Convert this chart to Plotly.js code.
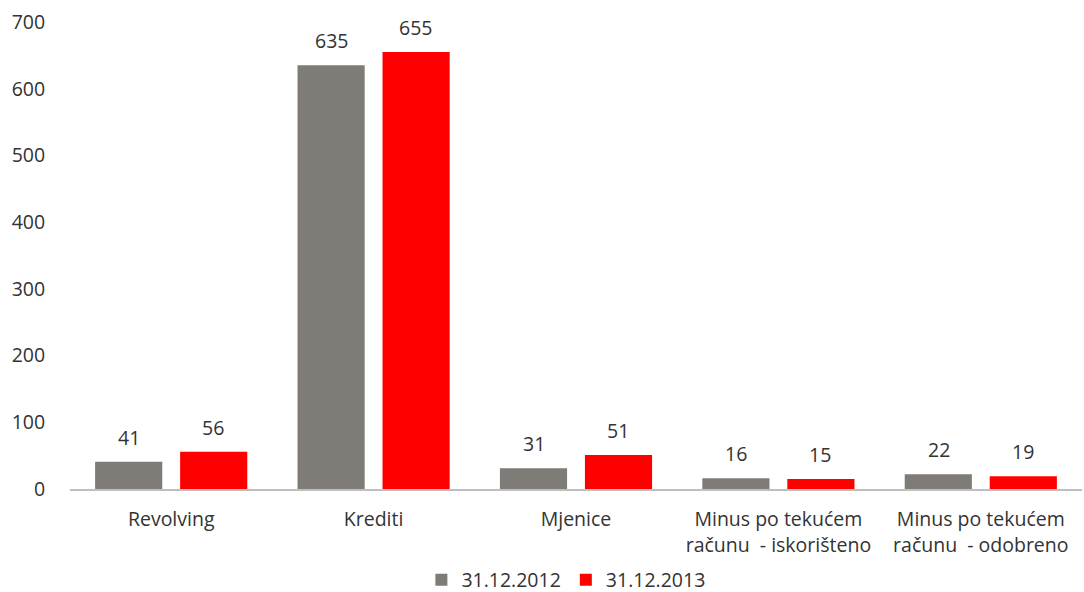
<!DOCTYPE html>
<html>
<head>
<meta charset="utf-8">
<script src="https://cdn.plot.ly/plotly-3.0.1.min.js"></script>
<style>html,body{margin:0;padding:0;background:#fff;}#chart{width:1084px;height:592px;}</style>
</head>
<body>
<div id="chart"></div>
<script>
const categories = ["Revolving", "Krediti", "Mjenice", "Minus po tekućem<br>računu  - iskorišteno", "Minus po tekućem<br>računu  - odobreno"];
const series2012 = [41, 635, 31, 16, 22];
const series2013 = [56, 655, 51, 15, 19];
const seriesNames = ["31.12.2012", "31.12.2013"];
const yTicks = [0, 100, 200, 300, 400, 500, 600, 700];

const textColor = "#333333";
const fontFam = "'Open Sans', 'Liberation Sans', sans-serif";
const fs = 19.5;

const traces = [
  {type: "bar", x: categories, y: series2012, name: seriesNames[0], marker: {color: "#7f7b76"}, hoverinfo: "skip"},
  {type: "bar", x: categories, y: series2013, name: seriesNames[1], marker: {color: "#ff0000"}, hoverinfo: "skip"}
];

const annotations = [];
[series2012, series2013].forEach((s, si) => {
  s.forEach((v, i) => {
    annotations.push({
      x: categories[i], y: v, xref: "x", yref: "y",
      text: String(v), showarrow: false,
      xshift: si === 0 ? -42 : 42, yshift: 9, yanchor: "bottom",
      font: {family: fontFam, size: fs, color: textColor}
    });
  });
});

const layout = {
  width: 1084, height: 592,
  margin: {l: 70, r: 2, t: 22, b: 103, autoexpand: false},
  paper_bgcolor: "#fff", plot_bgcolor: "#fff",
  font: {family: fontFam, size: fs, color: textColor},
  barmode: "group", bargap: 0.16, bargroupgap: 0.21,
  showlegend: true,
  legend: {orientation: "h", x: 0.49, xanchor: "center", y: -0.195, yanchor: "middle", font: {family: fontFam, size: fs, color: textColor}, itemwidth: 30, traceorder: "normal"},
  xaxis: {automargin: false, showline: true, linecolor: "#bfbfbf", linewidth: 2, ticks: "outside", ticklen: 12, tickcolor: "rgba(0,0,0,0)", showgrid: false, zeroline: false, tickfont: {family: fontFam, size: fs, color: textColor}},
  yaxis: {automargin: false, range: [0, 700], tickvals: yTicks, ticktext: yTicks.map(String), showline: false, showgrid: false, zeroline: false, ticks: "outside", ticklen: 20, tickcolor: "rgba(0,0,0,0)", tickfont: {family: fontFam, size: fs, color: textColor}},
  annotations: annotations
};

Plotly.newPlot("chart", traces, layout, {displayModeBar: false, staticPlot: true});
</script>
</body>
</html>
